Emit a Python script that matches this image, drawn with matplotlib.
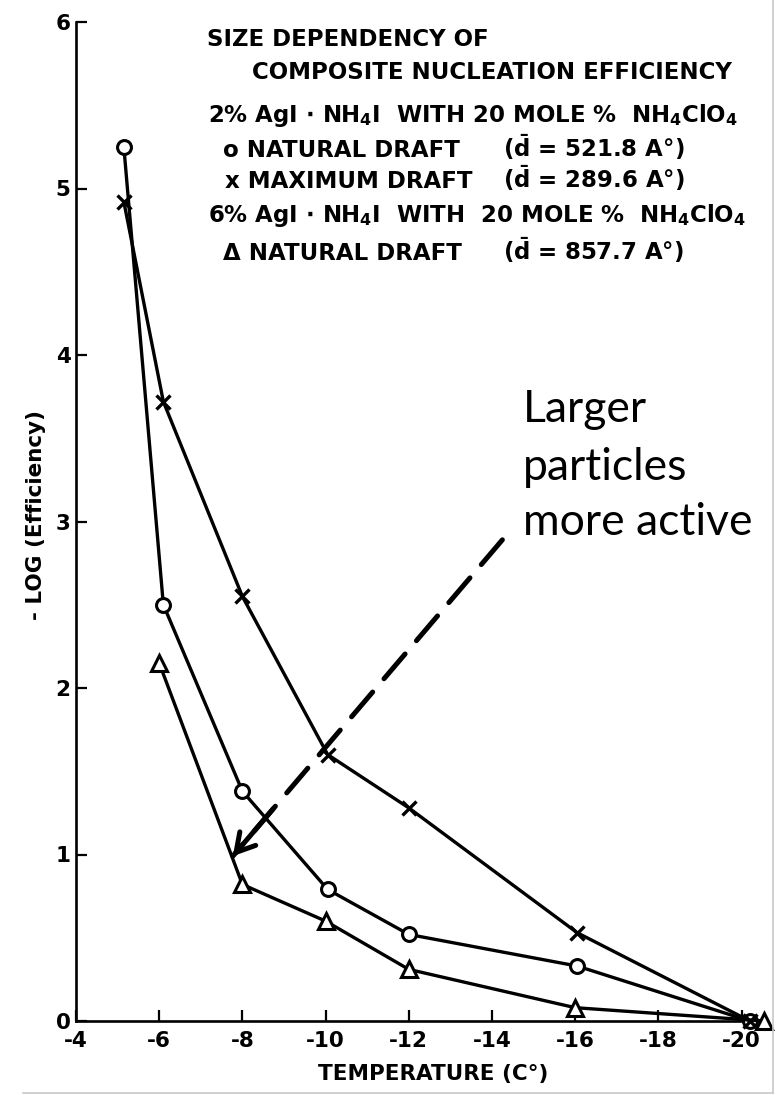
import matplotlib
matplotlib.use('Agg')
import matplotlib.pyplot as plt
from matplotlib.lines import Line2D

# ---- data ----
x_ticks = [-4, -6, -8, -10, -12, -14, -16, -18, -20]
x_tick_labels = ['-4', '-6', '-8', '-10', '-12', '-14', '-16', '-18', '-20']
y_ticks = [0, 1, 2, 3, 4, 5, 6]

temp_nat2 = [-5.15, -6.1, -8.0, -10.05, -12.0, -16.05, -20.2]
logeff_nat2 = [5.25, 2.50, 1.38, 0.79, 0.52, 0.33, 0.0]

temp_max2 = [-5.15, -6.1, -8.0, -10.05, -12.0, -16.05, -20.2]
logeff_max2 = [4.92, 3.72, 2.55, 1.60, 1.28, 0.53, 0.0]

temp_nat6 = [-6.0, -8.0, -10.0, -12.0, -16.0, -20.55]
logeff_nat6 = [2.15, 0.82, 0.60, 0.31, 0.08, 0.0]

plt.rcParams['font.family'] = ['DejaVu Sans']
plt.rcParams['mathtext.default'] = 'bf'
plt.rcParams['axes.unicode_minus'] = False

W, H = 782, 1095
fig = plt.figure(figsize=(W / 100, H / 100), dpi=100)
fig.patch.set_facecolor('white')

def fx(px):
    return px / W

def fy(py):
    return 1 - py / H

ax = fig.add_axes([fx(76), fy(1021), 703 / W, 999 / H])
ax.set_xlim(-4, -20.9)
ax.set_ylim(0, 6)

for s in ['top', 'right']:
    ax.spines[s].set_visible(False)
for s in ['left', 'bottom']:
    ax.spines[s].set_linewidth(1.9)
ax.spines['bottom'].set_bounds(-4, -20.05)
ax.spines['left'].set_bounds(0, 6)

ax.set_xticks(x_ticks)
ax.set_xticklabels(x_tick_labels)
ax.set_yticks(y_ticks)
ax.tick_params(axis='both', direction='in', length=8, width=1.6, labelsize=15.5)
ax.tick_params(axis='x', pad=7)
ax.tick_params(axis='y', pad=4)
for lbl in ax.get_xticklabels() + ax.get_yticklabels():
    lbl.set_fontweight('bold')

line_kw = dict(color='black', lw=2.4, mfc='white', mec='black', clip_on=False)
ax.plot(temp_nat2, logeff_nat2, marker='o', ms=10, mew=2.2, zorder=3, **line_kw)
ax.plot(temp_max2, logeff_max2, marker='x', ms=10, mew=2.4, zorder=3, **line_kw)
ax.plot(temp_nat6, logeff_nat6, marker='^', ms=12, mew=2.2, zorder=3, **line_kw)

# axis labels
fig.text(fx(433), fy(1080), 'TEMPERATURE (C°)', ha='center', va='baseline',
         fontsize=15.5, fontweight='bold')
fig.text(fx(36), fy(515), '- LOG (Efficiency)', ha='center', va='center',
         rotation=90, fontsize=15.5, fontweight='bold')

# legend / title block
tk = dict(fontsize=16.5, fontweight='bold', va='baseline', ha='left')
fig.text(fx(207), fy(46), 'SIZE DEPENDENCY OF', **tk)
fig.text(fx(252), fy(79), 'COMPOSITE NUCLEATION EFFICIENCY', **tk)
fig.text(fx(208), fy(122), r'2% AgI $\cdot$ NH$_4$I  WITH 20 MOLE %  NH$_4$ClO$_4$', **tk)
fig.text(fx(223), fy(157), 'o NATURAL DRAFT', **tk)
fig.text(fx(503), fy(157), r'($\bar{d}$ = 521.8 A°)', **tk)
fig.text(fx(225), fy(188), 'x MAXIMUM DRAFT', **tk)
fig.text(fx(503), fy(188), r'($\bar{d}$ = 289.6 A°)', **tk)
fig.text(fx(208), fy(222), r'6% AgI $\cdot$ NH$_4$I  WITH  20 MOLE %  NH$_4$ClO$_4$', **tk)
fig.text(fx(223), fy(260), 'Δ NATURAL DRAFT', **tk)
fig.text(fx(503), fy(260), r'($\bar{d}$ = 857.7 A°)', **tk)

# annotation text
ak = dict(fontsize=32, family='Lato', va='baseline', ha='left')
fig.text(fx(523), fy(422), 'Larger', **ak)
fig.text(fx(523), fy(480), 'particles', **ak)
fig.text(fx(523), fy(535), 'more active', **ak)

# dashed arrow
start = (-14.25, 2.89)
end = (-7.77, 0.99)
frac = 0.85
head_from = (start[0] + frac * (end[0] - start[0]), start[1] + frac * (end[1] - start[1]))
ax.annotate('', xy=end, xytext=start, xycoords='data', textcoords='data',
            arrowprops=dict(arrowstyle='-', lw=3.6, ls=(0, (6.5, 3.5)),
                            color='black', shrinkA=0, shrinkB=0))
ax.annotate('', xy=end, xytext=head_from, xycoords='data', textcoords='data',
            arrowprops=dict(arrowstyle='->,head_length=1.3,head_width=0.75', lw=3.6,
                            color='black', shrinkA=0, shrinkB=0))

# slide border lines
fig.add_artist(Line2D([fx(773), fx(773)], [fy(0), fy(1093)], color='#c8c8c8', lw=1.2))
fig.add_artist(Line2D([fx(23), fx(773)], [fy(1093), fy(1093)], color='#c8c8c8', lw=1.2))

fig.savefig('out.png', dpi=100, facecolor='white')
